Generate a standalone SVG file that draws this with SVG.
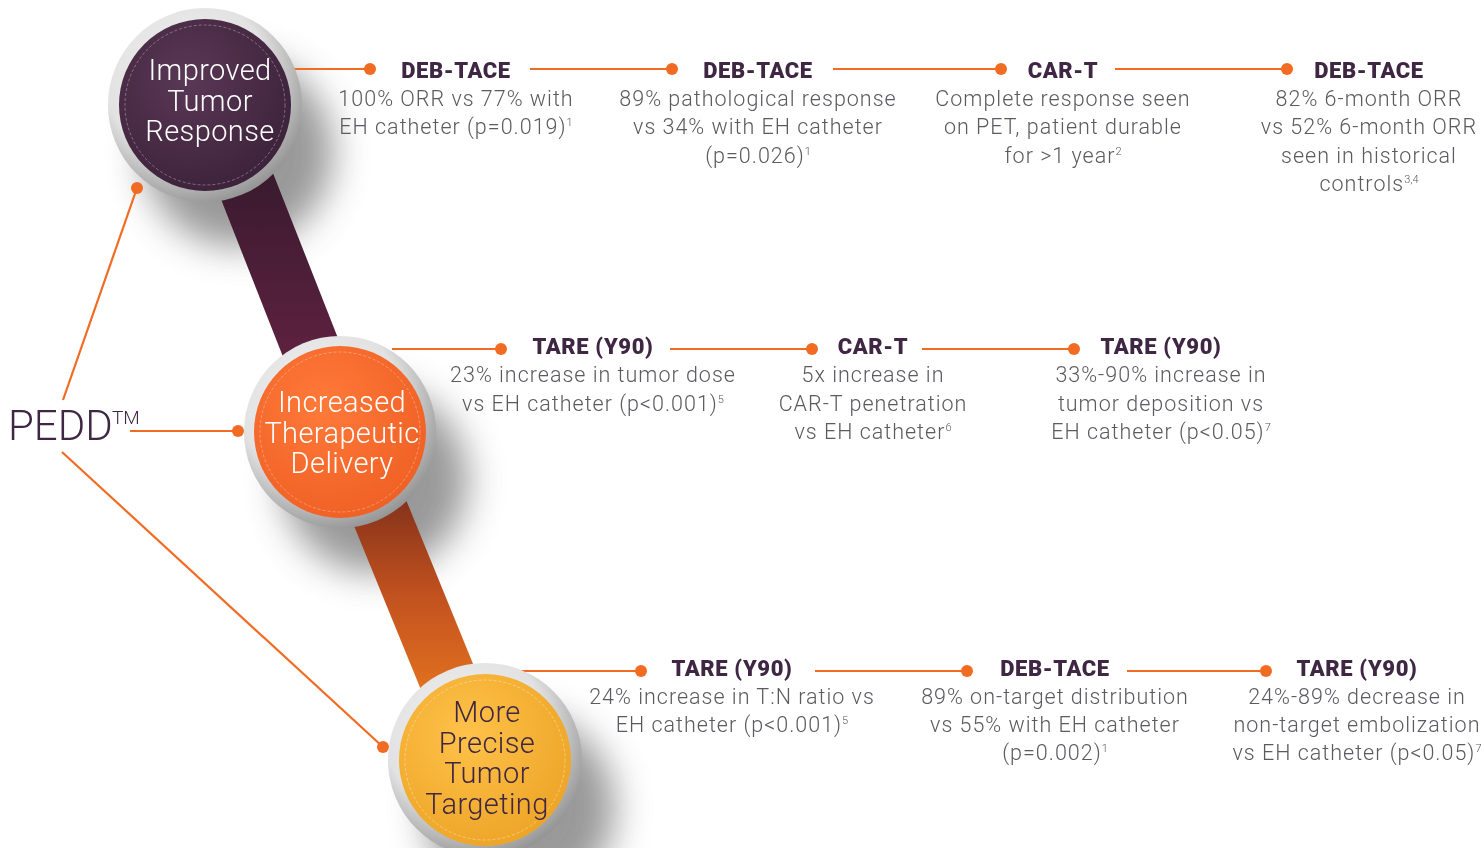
<svg xmlns="http://www.w3.org/2000/svg" width="1484" height="848" viewBox="0 0 1484 848">
<defs>
<style>
.t{font-family:"Roboto","Liberation Sans",sans-serif;font-weight:900;font-size:22px;letter-spacing:0.6px;fill:#3F2744;text-anchor:middle}
.b{font-family:"Roboto","Liberation Sans",sans-serif;font-weight:300;font-size:21.5px;letter-spacing:1px;fill:#5A5A5F;text-anchor:middle}
.c{font-family:"Roboto","Liberation Sans",sans-serif;font-weight:300;font-size:29px;letter-spacing:0.4px;text-anchor:middle}
.s{font-size:11px;letter-spacing:0}
.ln{stroke:#F26B22;stroke-width:2.2;fill:none}
.dot{fill:#F26B22}
</style>
<linearGradient id="band1" x1="0" y1="0" x2="0" y2="1">
<stop offset="0" stop-color="#2C1828"/><stop offset="1" stop-color="#6D2446"/>
</linearGradient>
<linearGradient id="band2" x1="0" y1="0" x2="0" y2="1">
<stop offset="0" stop-color="#5A1C18"/><stop offset="0.5" stop-color="#C2521F"/><stop offset="1" stop-color="#F8861E"/>
</linearGradient>
<radialGradient id="ring" cx="0.4" cy="0.35" r="0.7">
<stop offset="0" stop-color="#F2F2F2"/><stop offset="0.6" stop-color="#E2E2E2"/><stop offset="1" stop-color="#8E8E8E"/>
</radialGradient>
<radialGradient id="purp" cx="0.4" cy="0.35" r="0.75">
<stop offset="0" stop-color="#5A3856"/><stop offset="1" stop-color="#3A2038"/>
</radialGradient>
<radialGradient id="oran" cx="0.4" cy="0.35" r="0.75">
<stop offset="0" stop-color="#FF7A3A"/><stop offset="1" stop-color="#EE5E22"/>
</radialGradient>
<radialGradient id="yell" cx="0.4" cy="0.35" r="0.75">
<stop offset="0" stop-color="#FFC24A"/><stop offset="1" stop-color="#EBA224"/>
</radialGradient>
<filter id="blur" x="-50%" y="-50%" width="200%" height="200%"><feGaussianBlur stdDeviation="18"/></filter>
</defs>
<rect width="1484" height="848" fill="#FFFFFF"/>

<g id="shadows" opacity="0.6">
<circle cx="238" cy="152" r="95" fill="#555" filter="url(#blur)"/>
<circle cx="375" cy="480" r="93" fill="#555" filter="url(#blur)"/>
<circle cx="520" cy="808" r="95" fill="#555" filter="url(#blur)"/>
</g>

<g id="bands">
<line x1="217" y1="110" x2="343" y2="430" stroke="url(#band1)" stroke-width="58"/>
<line x1="347" y1="432" x2="481" y2="760" stroke="url(#band2)" stroke-width="58"/>
</g>

<g id="connectors">
<line class="ln" x1="290" y1="69" x2="370" y2="69"/><circle class="dot" cx="370" cy="69" r="6"/>
<line class="ln" x1="530" y1="69" x2="672" y2="69"/><circle class="dot" cx="672" cy="69" r="6"/>
<line class="ln" x1="833" y1="69" x2="1001" y2="69"/><circle class="dot" cx="1001" cy="69" r="6"/>
<line class="ln" x1="1115" y1="69" x2="1287" y2="69"/><circle class="dot" cx="1287" cy="69" r="6"/>

<line class="ln" x1="392" y1="349" x2="501" y2="349"/><circle class="dot" cx="501" cy="349" r="6"/>
<line class="ln" x1="670" y1="349" x2="812" y2="349"/><circle class="dot" cx="812" cy="349" r="6"/>
<line class="ln" x1="922" y1="349" x2="1074" y2="349"/><circle class="dot" cx="1074" cy="349" r="6"/>

<line class="ln" x1="515" y1="671" x2="641" y2="671"/><circle class="dot" cx="641" cy="671" r="6"/>
<line class="ln" x1="815" y1="671" x2="967" y2="671"/><circle class="dot" cx="967" cy="671" r="6"/>
<line class="ln" x1="1127" y1="671" x2="1266" y2="671"/><circle class="dot" cx="1266" cy="671" r="6"/>

<line class="ln" x1="63" y1="400" x2="137" y2="188"/><circle class="dot" cx="137" cy="188" r="6"/>
<line class="ln" x1="130" y1="431" x2="238" y2="431"/><circle class="dot" cx="238" cy="431" r="6"/>
<line class="ln" x1="62" y1="452" x2="383" y2="747"/><circle class="dot" cx="383" cy="747" r="6"/>
</g>

<g id="pedd">
<text x="8" y="440" font-family="Roboto,'Liberation Sans',sans-serif" font-weight="300" font-size="42" fill="#3F2744">PEDD</text>
<text x="112" y="424" font-family="Roboto,'Liberation Sans',sans-serif" font-weight="300" font-size="19" fill="#3F2744">TM</text>
</g>

<g id="node-improved">
<circle cx="205" cy="105" r="97" fill="url(#ring)"/>
<circle cx="205" cy="105" r="86" fill="url(#purp)"/>
<circle cx="205" cy="105" r="80" fill="none" stroke="#FFFFFF" stroke-opacity="0.45" stroke-width="0.7" stroke-dasharray="3 2"/>
<text class="c" x="210" y="80" fill="#FFFFFF">Improved</text>
<text class="c" x="210" y="111" fill="#FFFFFF">Tumor</text>
<text class="c" x="210" y="141" fill="#FFFFFF">Response</text>
</g>

<g id="node-delivery">
<circle cx="340" cy="432" r="96" fill="url(#ring)"/>
<circle cx="340" cy="432" r="86" fill="url(#oran)"/>
<circle cx="340" cy="432" r="80" fill="none" stroke="#FFFFFF" stroke-opacity="0.45" stroke-width="0.7" stroke-dasharray="3 2"/>
<text class="c" x="342" y="412" fill="#FFFFFF">Increased</text>
<text class="c" x="342" y="443" fill="#FFFFFF">Therapeutic</text>
<text class="c" x="342" y="473" fill="#FFFFFF">Delivery</text>
</g>

<g id="node-targeting">
<circle cx="485" cy="760" r="97" fill="url(#ring)"/>
<circle cx="485" cy="760" r="86" fill="url(#yell)"/>
<circle cx="485" cy="760" r="80" fill="none" stroke="#FFFFFF" stroke-opacity="0.5" stroke-width="0.7" stroke-dasharray="3 2"/>
<text class="c" x="487" y="722" fill="#3F2744">More</text>
<text class="c" x="487" y="753" fill="#3F2744">Precise</text>
<text class="c" x="487" y="783" fill="#3F2744">Tumor</text>
<text class="c" x="487" y="814" fill="#3F2744">Targeting</text>
</g>

<g id="r1c1">
<text class="t" x="456" y="78">DEB-TACE</text>
<text class="b" x="456" y="106">100% ORR vs 77% with</text>
<text class="b" x="456" y="134">EH catheter (p=0.019)<tspan class="s" dy="-8">1</tspan></text>
</g>
<g id="r1c2">
<text class="t" x="758" y="78">DEB-TACE</text>
<text class="b" x="758" y="106">89% pathological response</text>
<text class="b" x="758" y="134">vs 34% with EH catheter</text>
<text class="b" x="758" y="163">(p=0.026)<tspan class="s" dy="-8">1</tspan></text>
</g>
<g id="r1c3">
<text class="t" x="1063" y="78">CAR-T</text>
<text class="b" x="1063" y="106">Complete response seen</text>
<text class="b" x="1063" y="134">on PET, patient durable</text>
<text class="b" x="1063" y="163">for &gt;1 year<tspan class="s" dy="-8">2</tspan></text>
</g>
<g id="r1c4">
<text class="t" x="1369" y="78">DEB-TACE</text>
<text class="b" x="1369" y="106">82% 6-month ORR</text>
<text class="b" x="1369" y="134">vs 52% 6-month ORR</text>
<text class="b" x="1369" y="163">seen in historical</text>
<text class="b" x="1369" y="191">controls<tspan class="s" dy="-8">3,4</tspan></text>
</g>

<g id="r2c1">
<text class="t" x="593" y="354">TARE (Y90)</text>
<text class="b" x="593" y="382">23% increase in tumor dose</text>
<text class="b" x="593" y="411">vs EH catheter (p&lt;0.001)<tspan class="s" dy="-8">5</tspan></text>
</g>
<g id="r2c2">
<text class="t" x="873" y="354">CAR-T</text>
<text class="b" x="873" y="382">5x increase in</text>
<text class="b" x="873" y="411">CAR-T penetration</text>
<text class="b" x="873" y="439">vs EH catheter<tspan class="s" dy="-8">6</tspan></text>
</g>
<g id="r2c3">
<text class="t" x="1161" y="354">TARE (Y90)</text>
<text class="b" x="1161" y="382">33%-90% increase in</text>
<text class="b" x="1161" y="411">tumor deposition vs</text>
<text class="b" x="1161" y="439">EH catheter (p&lt;0.05)<tspan class="s" dy="-8">7</tspan></text>
</g>

<g id="r3c1">
<text class="t" x="732" y="676">TARE (Y90)</text>
<text class="b" x="732" y="704">24% increase in T:N ratio vs</text>
<text class="b" x="732" y="732">EH catheter (p&lt;0.001)<tspan class="s" dy="-8">5</tspan></text>
</g>
<g id="r3c2">
<text class="t" x="1055" y="676">DEB-TACE</text>
<text class="b" x="1055" y="704">89% on-target distribution</text>
<text class="b" x="1055" y="732">vs 55% with EH catheter</text>
<text class="b" x="1055" y="760">(p=0.002)<tspan class="s" dy="-8">1</tspan></text>
</g>
<g id="r3c3">
<text class="t" x="1357" y="676">TARE (Y90)</text>
<text class="b" x="1357" y="704">24%-89% decrease in</text>
<text class="b" x="1357" y="732">non-target embolization</text>
<text class="b" x="1357" y="760">vs EH catheter (p&lt;0.05)<tspan class="s" dy="-8">7</tspan></text>
</g>
</svg>
